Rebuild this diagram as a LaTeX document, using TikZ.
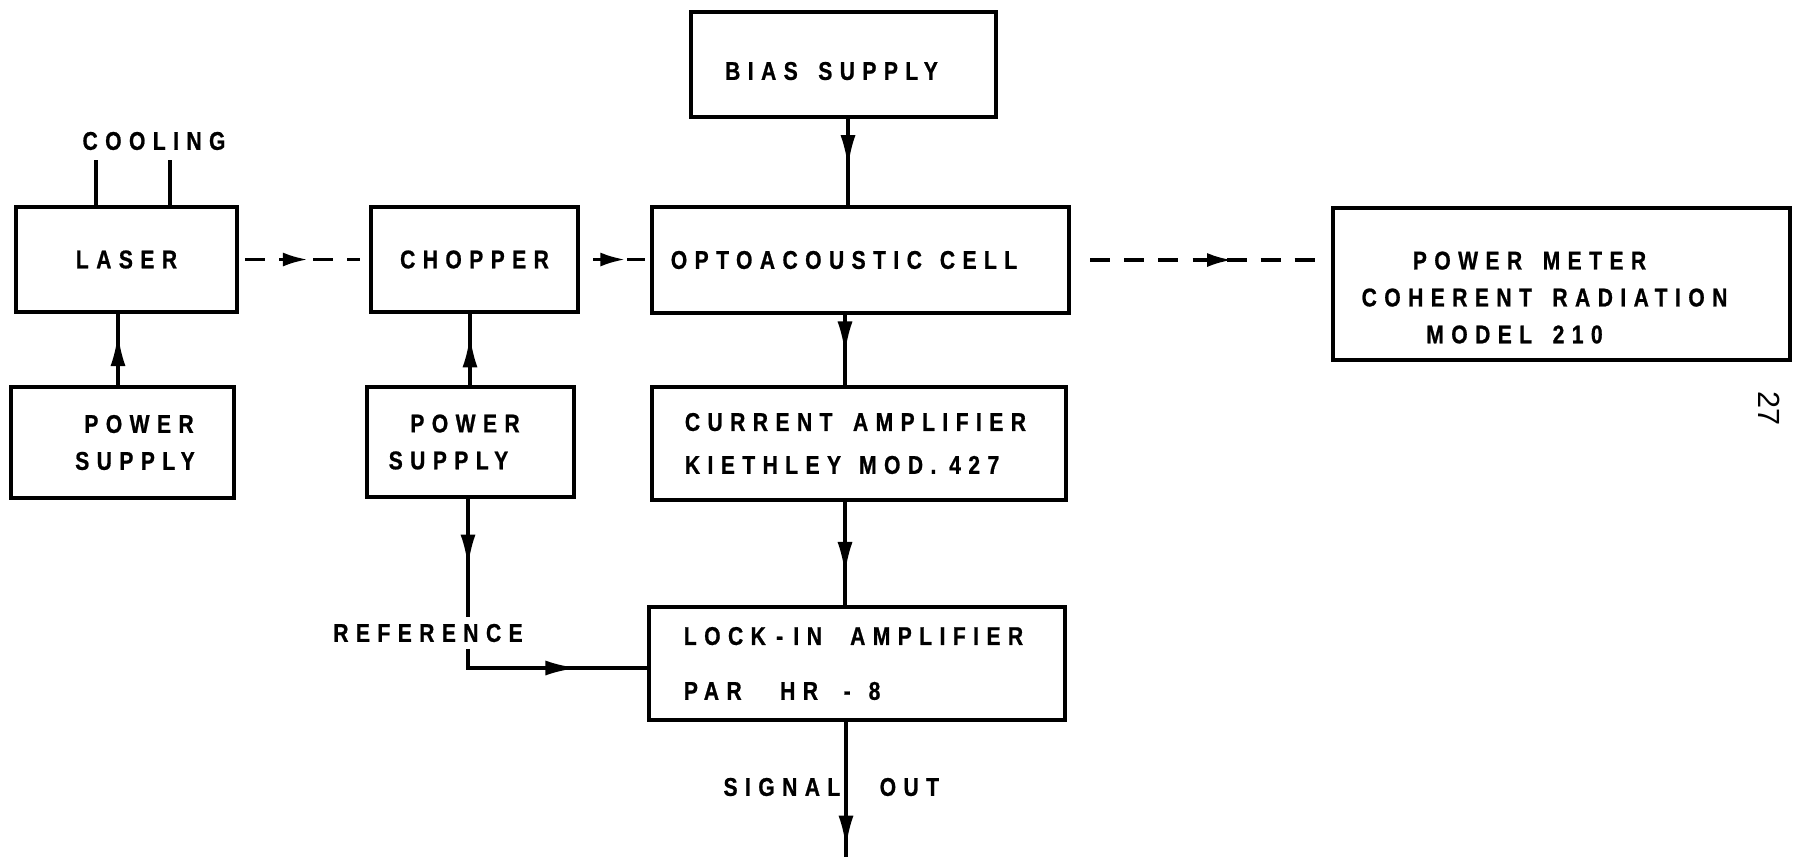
\documentclass[tikz,border=0pt]{standalone}
\usepackage{fontspec}
\setmainfont{Liberation Sans}
\newfontfamily\labfont{Liberation Sans}[FakeStretch=0.82,LetterSpace=29,FakeBold=0.8]
\usetikzlibrary{arrows.meta,decorations.markings}
\newcommand\wsp{\hspace*{0.8em}}
\begin{document}
\begin{tikzpicture}[x=0.01cm,y=-0.01cm,
  box/.style={draw, line width=1.3pt, inner sep=0pt,
    font=\labfont\bfseries\fontsize{7.3}{10.5}\selectfont},
  lbl/.style={inner sep=0.6mm, font=\labfont\bfseries\fontsize{7.3}{10.5}\selectfont},
  conn/.style={line width=1pt},
  dashline/.style={line width=1pt, dash pattern=on 2mm off 1.4mm},
  midarrow/.style={postaction={decorate}, decoration={markings,
    mark=at position #1 with {\arrow[solid]{Latex[length=3.2mm,width=1.5mm]}}}},
  dasharrow/.style={postaction={decorate}, decoration={markings,
    mark=at position #1 with {\arrow[solid]{Latex[length=2.5mm,width=1.4mm]}}}}
]
\useasboundingbox (0,0) rectangle (1795,857);

% boxes
\node[box, minimum width=2.21cm, minimum height=1.05cm] (laser) at (126.5,259.5) {LASER};
\node[box, align=center, minimum width=2.23cm, minimum height=1.11cm] (lps) at (122.5,442.5)
  {\hspace*{3.3mm}POWER\\\hspace*{2.5mm}SUPPLY};
\node[box, minimum width=2.07cm, minimum height=1.05cm] (chopper) at (474.5,259.5) {CHOPPER};
\node[box, align=center, minimum width=2.07cm, minimum height=1.10cm] (cps) at (470.5,442)
  {\hspace*{-1.1mm}POWER\\\hspace*{-4.4mm}SUPPLY};
\node[box, minimum width=3.05cm, minimum height=1.05cm] (bias) at (843.5,64.5)
  {\rule{0pt}{3.1mm}\hspace*{-2.4mm}BIAS\wsp SUPPLY};
\node[box, minimum width=4.17cm, minimum height=1.06cm] (cell) at (860.5,260)
  {\hspace*{-3.3mm}OPTOACOUSTIC\hspace*{0.7em}CELL};
\node[box, align=left, text width=3.48cm, inner xsep=0.33cm, minimum height=1.13cm] (camp) at (859,443.5)
  {CURRENT\wsp AMPLIFIER\\[1.7pt]KIETHLEY\hspace*{0.7em}MOD.\hspace*{0.5em}427};
\node[box, align=left, text width=3.46cm, inner xsep=0.35cm, minimum height=1.13cm] (lockin) at (857,663.5)
  {LOCK\hspace*{0.4em}-\hspace*{0.4em}IN\hspace*{1.1em}AMPLIFIER\\[5.1pt]PAR\hspace*{1.5em}HR\hspace*{1em}-\hspace*{0.7em}8};
\node[box, align=center, minimum width=4.57cm, minimum height=1.52cm] (pm) at (1561.5,284)
  {\rule{0pt}{4.5mm}\hspace*{-6.4mm}POWER\wsp METER\\\hspace*{-3.4mm}COHERENT\wsp RADIATION\\\hspace*{-9.4mm}MODEL\wsp 210};

% free labels
\node[lbl] (cooling) at (154,141) {COOLING};
\node[lbl] (ref) at (428,633) {REFERENCE};
\node[lbl, anchor=east] (sig) at (847,787) {SIGNAL};
\node[lbl, anchor=west] (out) at (873,787) {OUT};
\node[rotate=-90, inner sep=0pt, font=\fontsize{8.7}{10}\selectfont] (pagenum) at (1769,408) {27};

\coordinate (cool1) at (96,160);
\coordinate (cool2) at (170,160);
\coordinate (sigend) at (846,857);

% cooling
\draw[conn] (cool1) -- (cool1 |- laser.north);
\draw[conn] (cool2) -- (cool2 |- laser.north);

% solid connectors
\draw[conn, midarrow=0.72] (118,0 |- lps.north) -- (118,0 |- laser.south);
\draw[conn, midarrow=0.70] (470,0 |- cps.north) -- (470,0 |- chopper.south);
\draw[conn, midarrow=0.56] (848,0 |- bias.south) -- (848,0 |- cell.north);
\draw[conn, midarrow=0.55] (845,0 |- cell.south) -- (845,0 |- camp.north);
\draw[conn, midarrow=0.70] (845,0 |- camp.south) -- (845,0 |- lockin.north);
\draw[conn, midarrow=0.57] (468,0 |- cps.south) -- (ref.north -| 468,0);
\draw[conn, midarrow=0.65] (ref.south -| 468,0) -- (468,668) -- (lockin.west |- 0,668);
\draw[conn, midarrow=0.93] (846,0 |- lockin.south) -- (sigend);

% dashed beam
\draw[dashline, dasharrow=0.53, shorten <=0.6mm, shorten >=0.9mm] (laser.east) -- (laser.east -| chopper.west);
\draw[dashline, dasharrow=0.65, shorten <=1.3mm, shorten >=0.5mm] (chopper.east) -- (chopper.east -| cell.west);
\draw[dashline, dasharrow=0.62, shorten <=1.9mm, shorten >=0.9mm] (cell.east) -- (cell.east -| pm.west);
\end{tikzpicture}
\end{document}
